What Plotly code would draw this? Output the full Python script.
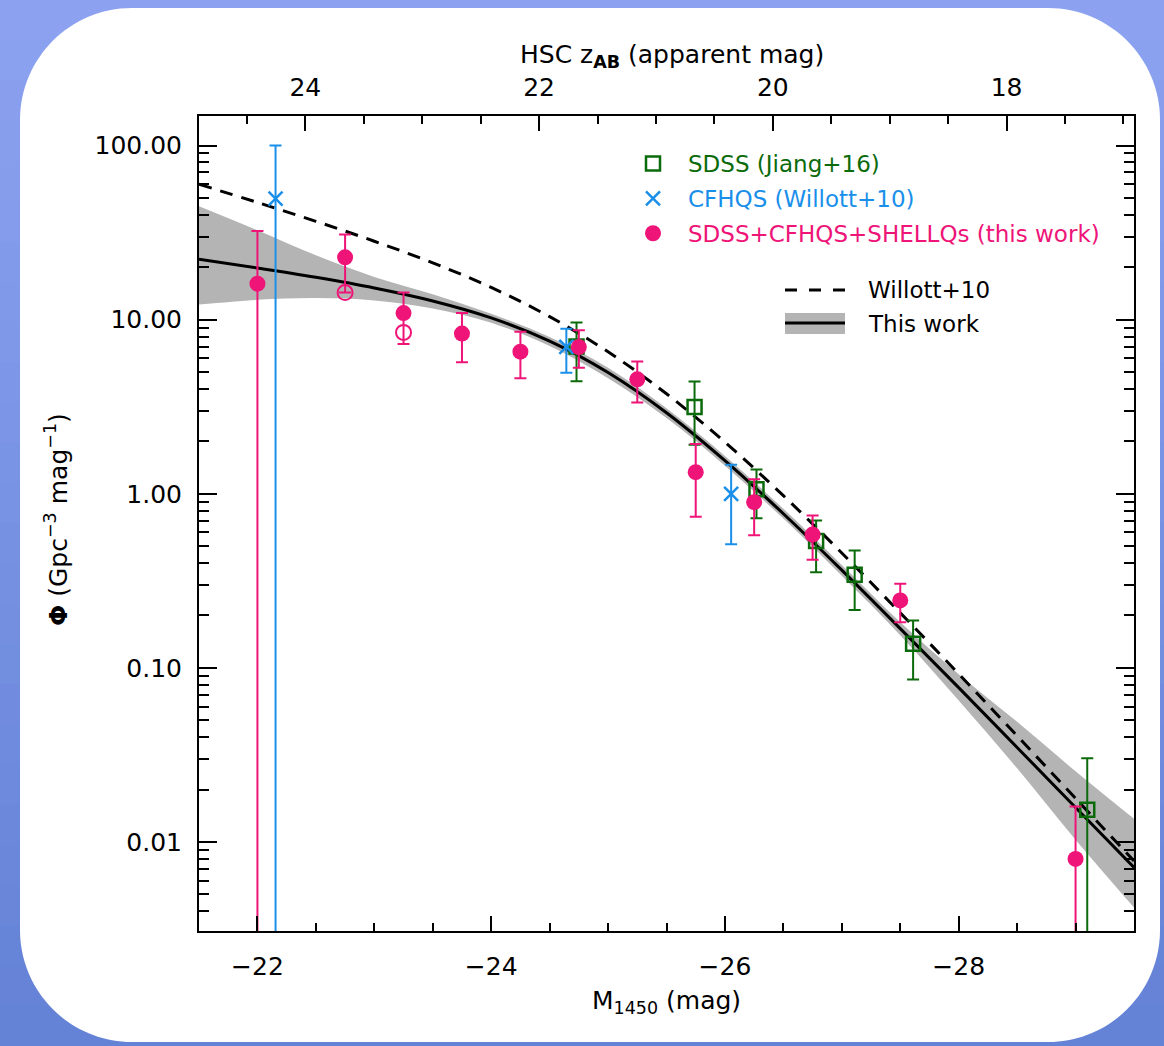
import plotly.graph_objects as go

# ---------------- data ----------------
# model curves on a magnitude grid
M_grid = [-21.5, -22.0, -22.5, -23.0, -23.5, -24.0, -24.5, -25.0, -25.5,
          -26.0, -26.5, -27.0, -27.5, -28.0, -28.5, -29.0, -29.5]
phi_this_work = [22.2, 19.8, 17.5, 15.2, 12.8, 10.24, 7.53, 4.97, 2.92,
                 1.55, 0.768, 0.364, 0.168, 0.077, 0.0349, 0.0158, 0.00714]
phi_this_work_hi = [44.8, 32.6, 23.4, 17.6, 14.0, 10.8, 7.95, 5.3, 3.1,
                    1.65, 0.82, 0.39, 0.183, 0.092, 0.049, 0.0255, 0.0136]
phi_this_work_lo = [12.2, 13.0, 13.3, 12.9, 11.6, 9.6, 7.05, 4.6, 2.72,
                    1.45, 0.72, 0.338, 0.154, 0.065, 0.0265, 0.0103, 0.0042]
phi_willott = [59.9, 47.1, 36.7, 28.2, 21.2, 15.3, 10.4, 6.53, 3.75,
               1.98, 0.975, 0.457, 0.207, 0.0924, 0.0407, 0.0178, 0.00778]

# SDSS (Jiang+16)
M_sdss = [-24.73, -25.74, -26.27, -26.78, -27.11, -27.61, -29.10]
phi_sdss = [7.0, 3.15, 1.06, 0.535, 0.343, 0.1375, 0.0153]
phi_sdss_hi = [9.62, 4.42, 1.38, 0.703, 0.472, 0.187, 0.0303]
phi_sdss_lo = [4.43, 1.91, 0.724, 0.354, 0.215, 0.0857, 0.0001]

# CFHQS (Willott+10)
M_cfhqs = [-22.155, -24.643, -26.053]
phi_cfhqs = [49.5, 6.97, 1.0]
phi_cfhqs_hi = [100.0, 8.87, 1.47]
phi_cfhqs_lo = [0.0001, 4.95, 0.513]

# SDSS+CFHQS+SHELLQs (this work)
M_this = [-22.0, -22.75, -23.25, -23.75, -24.25, -24.75, -25.25, -25.75,
          -26.25, -26.75, -27.5, -29.0]
phi_this = [16.1, 22.8, 10.9, 8.32, 6.55, 6.96, 4.54, 1.33, 0.895, 0.583,
            0.244, 0.0080]
phi_this_hi = [32.3, 30.8, 14.3, 10.9, 8.53, 8.7, 5.75, 1.93, 1.21, 0.75,
               0.304, 0.0160]
phi_this_lo = [0.0001, 14.3, 7.24, 5.69, 4.60, 5.3, 3.34, 0.738, 0.578,
               0.418, 0.183, 0.0001]

# open circles (this work, alternative values)
M_open = [-22.75, -23.25]
phi_open = [14.3, 8.45]

# axes
x_range = [-21.5, -29.5]          # M1450
y_range_log = [-2.511, 2.1695]    # log10(Phi)
app_minus_abs = 46.41             # z_AB = M1450 + 46.41
y_tickvals = [100, 10, 1, 0.1, 0.01]
y_ticktext = ["100.00", "10.00", "1.00", "0.10", "0.01"]
x_tickvals = [-22, -24, -26, -28]
x_ticktext = ["\u221222", "\u221224", "\u221226", "\u221228"]
top_tickvals = [24, 22, 20, 18]

# ---------------- style ----------------
PINK = "#EE1478"
GREEN = "#0B6B0B"
BLUE = "#1A8FEA"
GRAY = "#B4B4B4"
FONT = "DejaVu Sans"

W, H = 1164, 1046
L, R, T, B = 199, 30, 116, 115
PW, PH = W - L - R, H - T - B


def px(xp):
    return (xp - L) / PW


def py(yp):
    return (H - B - yp) / PH


def errs(v, hi, lo):
    return [h - a for a, h in zip(v, hi)], [a - l for a, l in zip(v, lo)]


fig = go.Figure()

# band
fig.add_trace(go.Scatter(x=M_grid, y=phi_this_work_lo, mode="lines",
                         line=dict(width=0, shape="spline", color=GRAY),
                         showlegend=False, hoverinfo="skip"))
fig.add_trace(go.Scatter(x=M_grid, y=phi_this_work_hi, mode="lines",
                         line=dict(width=0, shape="spline", color=GRAY),
                         fill="tonexty", fillcolor=GRAY,
                         showlegend=False, hoverinfo="skip"))
# curves
fig.add_trace(go.Scatter(x=M_grid, y=phi_this_work, mode="lines",
                         line=dict(width=3, color="black", shape="spline"),
                         showlegend=False))
fig.add_trace(go.Scatter(x=M_grid, y=phi_willott, mode="lines",
                         line=dict(width=3, color="black", shape="spline",
                                   dash="13px,9px"),
                         showlegend=False))

# invisible trace so that the top (apparent magnitude) axis is drawn
fig.add_trace(go.Scatter(x=[x_range[0] + app_minus_abs], y=[y_tickvals[2]],
                         xaxis="x2", mode="markers",
                         marker=dict(opacity=0, size=1),
                         showlegend=False, hoverinfo="skip"))

# data points
ep, em = errs(phi_sdss, phi_sdss_hi, phi_sdss_lo)
fig.add_trace(go.Scatter(
    x=M_sdss, y=phi_sdss, mode="markers",
    name="<span style='color:%s'>SDSS (Jiang+16)</span>" % GREEN,
    legendgroup="a",
    marker=dict(symbol="square-open", size=14, color=GREEN,
                line=dict(width=2.5, color=GREEN)),
    error_y=dict(type="data", array=ep, arrayminus=em, symmetric=False,
                 color=GREEN, thickness=2, width=6)))

ep, em = errs(phi_cfhqs, phi_cfhqs_hi, phi_cfhqs_lo)
fig.add_trace(go.Scatter(
    x=M_cfhqs, y=phi_cfhqs, mode="markers",
    name="<span style='color:%s'>CFHQS (Willott+10)</span>" % BLUE,
    legendgroup="b",
    marker=dict(symbol="x-thin-open", size=14, color=BLUE,
                line=dict(width=2.5, color=BLUE)),
    error_y=dict(type="data", array=ep, arrayminus=em, symmetric=False,
                 color=BLUE, thickness=2, width=6)))

fig.add_trace(go.Scatter(
    x=M_open, y=phi_open, mode="markers", showlegend=False,
    marker=dict(symbol="circle-open", size=15, color=PINK,
                line=dict(width=2, color=PINK))))

ep, em = errs(phi_this, phi_this_hi, phi_this_lo)
fig.add_trace(go.Scatter(
    x=M_this, y=phi_this, mode="markers",
    name="<span style='color:%s'>SDSS+CFHQS+SHELLQs (this work)</span>" % PINK,
    legendgroup="c",
    marker=dict(symbol="circle", size=16, color=PINK, line=dict(width=0)),
    error_y=dict(type="data", array=ep, arrayminus=em, symmetric=False,
                 color=PINK, thickness=2, width=6)))

# ---------------- background card ----------------
shapes = []
top_c = (140, 162, 240)
bot_c = (100, 130, 214)
nb = 26
for i in range(nb):
    f = i / (nb - 1)
    c = tuple(int(round(top_c[k] + (bot_c[k] - top_c[k]) * f)) for k in range(3))
    y0 = H * i / nb
    y1 = H * (i + 1) / nb + 1
    shapes.append(dict(type="rect", xref="paper", yref="paper",
                       x0=px(-2), x1=px(W + 2), y0=py(y1), y1=py(y0),
                       fillcolor="rgb(%d,%d,%d)" % c, line=dict(width=0),
                       layer="below"))

cx0, cx1, cy0, cy1, r = 20, 1160, 8, 1042, 112
k = 0.5523 * r


def P(x, y):
    return "%.5f,%.5f" % (px(x), py(y))


path = ("M " + P(cx0 + r, cy0) + " L " + P(cx1 - r, cy0) +
        " C " + P(cx1 - r + k, cy0) + " " + P(cx1, cy0 + r - k) + " " + P(cx1, cy0 + r) +
        " L " + P(cx1, cy1 - r) +
        " C " + P(cx1, cy1 - r + k) + " " + P(cx1 - r + k, cy1) + " " + P(cx1 - r, cy1) +
        " L " + P(cx0 + r, cy1) +
        " C " + P(cx0 + r - k, cy1) + " " + P(cx0, cy1 - r + k) + " " + P(cx0, cy1 - r) +
        " L " + P(cx0, cy0 + r) +
        " C " + P(cx0, cy0 + r - k) + " " + P(cx0 + r - k, cy0) + " " + P(cx0 + r, cy0) + " Z")
shapes.append(dict(type="path", xref="paper", yref="paper", path=path,
                   fillcolor="white", line=dict(width=0), layer="below"))

# manual second legend (line styles)
shapes.append(dict(type="line", xref="paper", yref="paper",
                   x0=px(785), x1=px(845), y0=py(290), y1=py(290),
                   line=dict(color="black", width=3, dash="12px,12px")))
shapes.append(dict(type="rect", xref="paper", yref="paper",
                   x0=px(785), x1=px(845), y0=py(334), y1=py(313),
                   fillcolor=GRAY, line=dict(width=0)))
shapes.append(dict(type="line", xref="paper", yref="paper",
                   x0=px(785), x1=px(845), y0=py(323), y1=py(323),
                   line=dict(color="black", width=3)))

annotations = [
    dict(text="Willott+10", x=px(866), y=py(290), xref="paper", yref="paper",
         xanchor="left", yanchor="middle", showarrow=False,
         font=dict(family=FONT, size=23, color="black")),
    dict(text="This work", x=px(866), y=py(324), xref="paper", yref="paper",
         xanchor="left", yanchor="middle", showarrow=False,
         font=dict(family=FONT, size=23, color="black")),
    dict(text="M<sub>1450</sub> (mag)", x=px(666), y=py(1002), xref="paper",
         yref="paper", xanchor="center", yanchor="middle", showarrow=False,
         font=dict(family=FONT, size=25, color="black")),
    dict(text="HSC z<sub><b>AB</b></sub> (apparent mag)", x=px(672), y=py(56),
         xref="paper", yref="paper", xanchor="center", yanchor="middle",
         showarrow=False, font=dict(family=FONT, size=25, color="black")),
    dict(text="<b>\u03a6</b> (Gpc<sup>\u22123</sup> mag<sup>\u22121</sup>)",
         x=px(56), y=py(520), xref="paper", yref="paper", textangle=-90,
         xanchor="center", yanchor="middle", showarrow=False,
         font=dict(family=FONT, size=25, color="black")),
]

minor_y = [m * 10.0 ** e for e in range(-3, 3) for m in range(2, 10)]

fig.update_layout(
    width=W, height=H,
    margin=dict(l=L, r=R, t=T, b=B, pad=0),
    paper_bgcolor="rgb(120,146,228)",
    plot_bgcolor="rgba(0,0,0,0)",
    font=dict(family=FONT, size=25, color="black"),
    shapes=shapes,
    annotations=annotations,
    legend=dict(x=px(618), y=py(142), xanchor="left", yanchor="top",
                bgcolor="rgba(0,0,0,0)", borderwidth=0,
                font=dict(family=FONT, size=23), itemwidth=60,
                traceorder="grouped", tracegroupgap=2),
    xaxis=dict(range=x_range, showgrid=False, zeroline=False,
               showline=True, linecolor="black", linewidth=2, mirror=False,
               ticks="inside", ticklen=15, tickwidth=2, tickcolor="black",
               tickvals=x_tickvals, ticktext=x_ticktext,
               ticklabelstandoff=12,
               tickfont=dict(family=FONT, size=25),
               minor=dict(ticks="inside", ticklen=8, tickwidth=2,
                          tickcolor="black", dtick=0.5, tick0=0,
                          showgrid=False)),
    xaxis2=dict(range=[x_range[0] + app_minus_abs, x_range[1] + app_minus_abs],
                overlaying="x", side="top", anchor="y",
                showgrid=False, zeroline=False,
                showline=True, linecolor="black", linewidth=2,
                ticks="inside", ticklen=15, tickwidth=2, tickcolor="black",
                tickvals=top_tickvals, ticklabelstandoff=8,
                tickfont=dict(family=FONT, size=25),
                minor=dict(ticks="inside", ticklen=8, tickwidth=2,
                           tickcolor="black", dtick=0.5, tick0=0,
                           showgrid=False)),
    yaxis=dict(type="log", range=y_range_log, showgrid=False, zeroline=False,
               showline=True, linecolor="black", linewidth=2, mirror="ticks",
               ticks="inside", ticklen=18, tickwidth=2, tickcolor="black",
               tickvals=y_tickvals, ticktext=y_ticktext,
               ticklabelstandoff=10,
               tickfont=dict(family=FONT, size=25),
               minor=dict(ticks="inside", ticklen=10, tickwidth=2,
                          tickcolor="black", tickvals=minor_y,
                          showgrid=False)),
)

fig.write_html("out.html")
